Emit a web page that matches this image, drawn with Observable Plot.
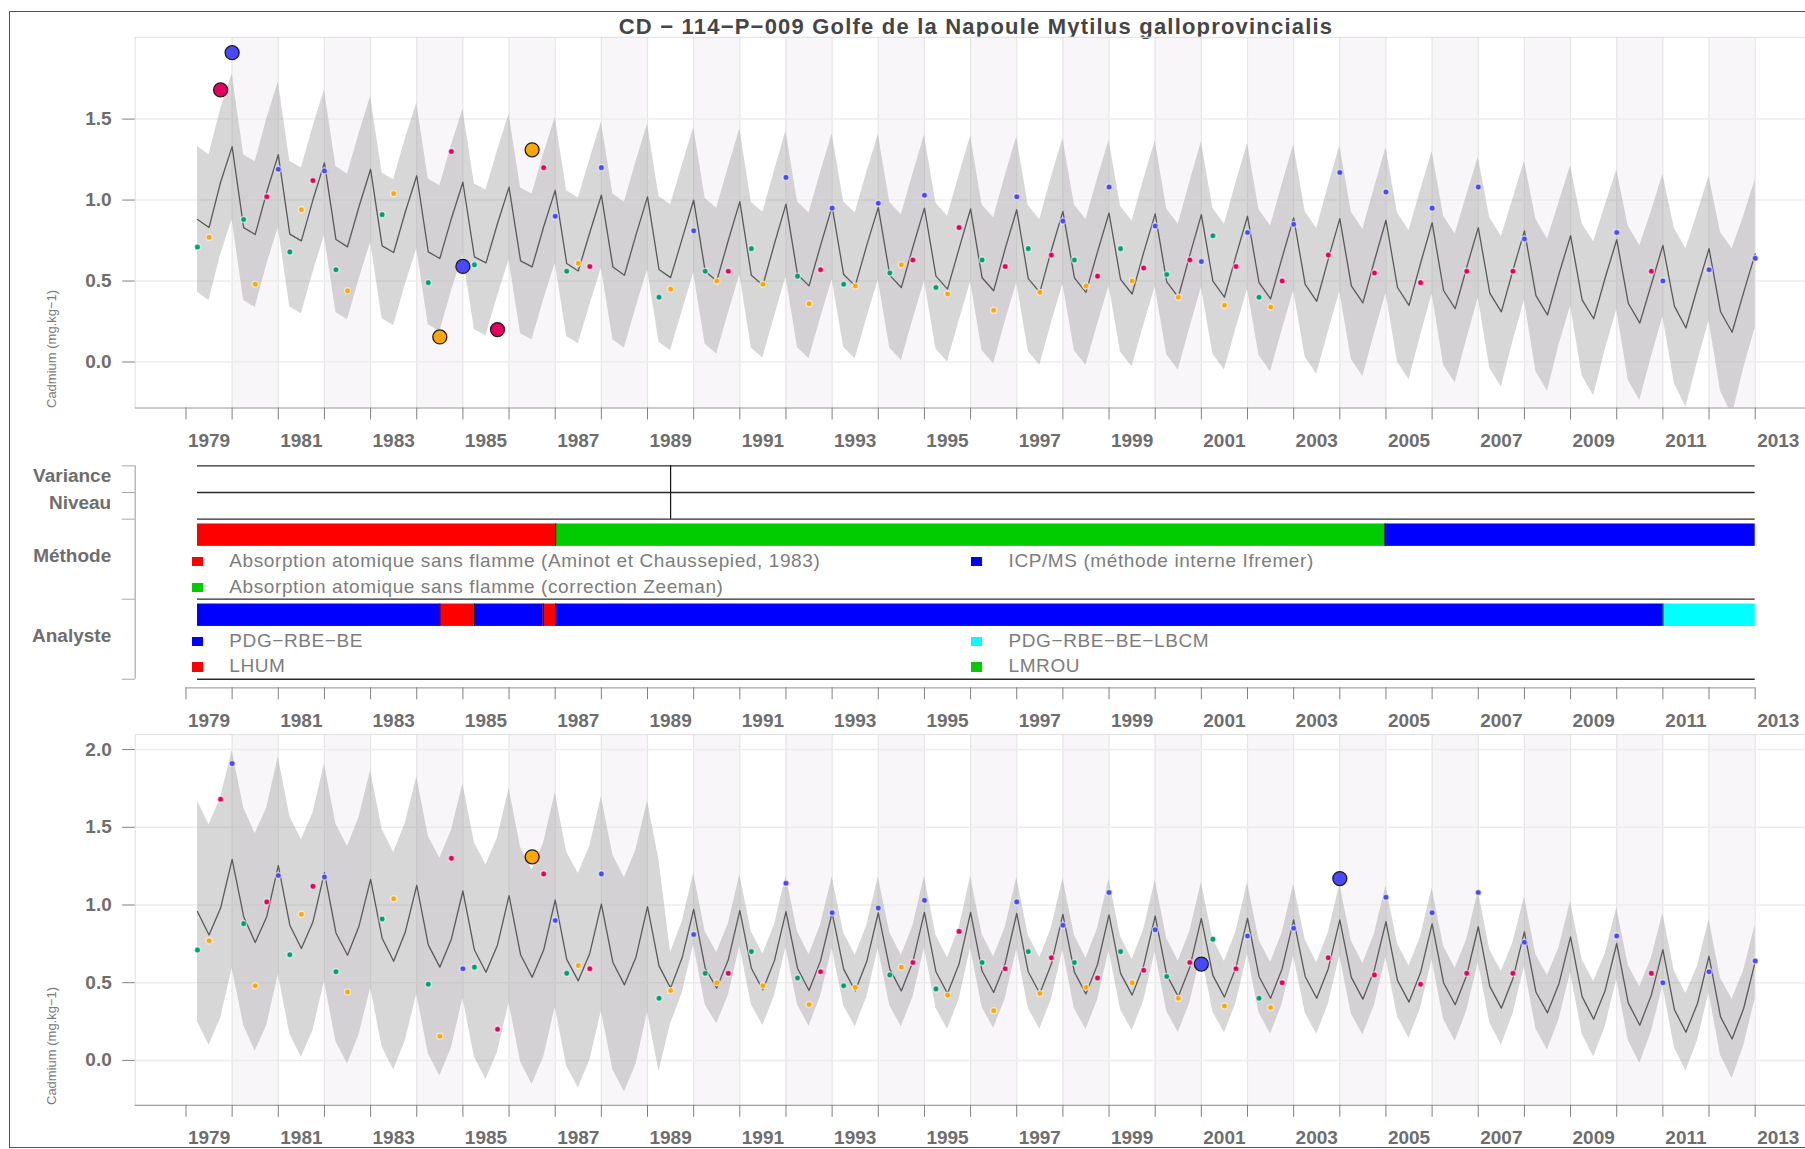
<!DOCTYPE html>
<html>
<head>
<meta charset="utf-8">
<script src="https://cdn.jsdelivr.net/npm/d3@7"></script>
<script src="https://cdn.jsdelivr.net/npm/@observablehq/plot@0.6"></script>
<style>
  html, body { margin:0; padding:0; background:#fff; }
  #page { position:relative; width:1805px; height:1149px; overflow:hidden; background:#fff;
          font-family:"Liberation Sans", Arial, Helvetica, sans-serif; }
  #frame { position:absolute; left:8.5px; top:10.8px; width:1830px; height:1137px; border:1.5px solid #555; box-sizing:border-box; }
  #title { position:absolute; left:976px; top:15.7px; transform:translateX(-50%); white-space:nowrap;
           font-size:22px; line-height:22px; font-weight:bold; color:#454545; letter-spacing:1.2px; }
  .ytitle { position:absolute; white-space:nowrap; font-size:13px; line-height:16px; color:#7a7a7a;
            transform-origin:0 0; transform:rotate(-90deg); }
  .leg { position:absolute; white-space:nowrap; font-size:19px; line-height:22px; color:#7d7d7d; letter-spacing:0.6px; }
  .sw { position:absolute; width:11px; height:9.5px; }
  .panel { position:absolute; left:0; }
</style>
</head>
<body>
<div id="page">
  <div id="frame"></div>
  <div id="title"></div>
</div>
<script>
// ---------------- DATA ----------------
const title = "CD − 114−P−009 Golfe de la Napoule Mytilus galloprovincialis";
const yTitle = "Cadmium (mg.kg−1)";

const years = [1979,1980,1981,1982,1983,1984,1985,1986,1987,1988,1989,1990,1991,1992,1993,1994,1995,1996,
               1997,1998,1999,2000,2001,2002,2003,2004,2005,2006,2007,2008,2009,2010,2011,2012,2013];
const labelYears = [1979,1981,1983,1985,1987,1989,1991,1993,1995,1997,1999,2001,2003,2005,2007,2009,2011,2013];

// Top panel model (quarterly: Q1 = year.00, Q2 = .25, Q3 = .50, Q4 = .75), one entry per year
const topQ1 = [null,1.33,1.28,1.23,1.19,1.15,1.11,1.08,1.06,1.03,1.02,1.00,0.99,0.975,0.96,0.955,0.95,0.945,
               0.94,0.93,0.92,0.915,0.91,0.90,0.89,0.885,0.875,0.86,0.83,0.81,0.78,0.755,0.72,0.70,0.668];
const topQ2 = [0.88,0.83,0.79,0.756,0.717,0.68,0.649,0.624,0.608,0.587,0.571,0.56,0.535,0.54,0.54,0.535,0.53,0.52,
               0.515,0.52,0.51,0.495,0.50,0.49,0.48,0.47,0.46,0.44,0.425,0.41,0.384,0.363,0.345,0.31,null];
const topQ3 = [0.83,0.787,0.748,0.711,0.676,0.639,0.612,0.587,0.562,0.536,0.521,0.50,0.474,0.47,0.47,0.46,0.45,0.44,
               0.43,0.43,0.42,0.40,0.40,0.39,0.375,0.365,0.35,0.33,0.31,0.29,0.267,0.24,0.21,0.184,null];
const topQ4 = [1.11,1.05,1.00,0.96,0.925,0.885,0.855,0.835,0.80,0.785,0.76,0.75,0.73,0.72,0.72,0.71,0.70,0.70,
               0.69,0.68,0.675,0.66,0.655,0.645,0.635,0.625,0.61,0.585,0.565,0.545,0.52,0.48,0.46,0.43,null];
// half-width of the grey band
const topHW1 = [null,0.45,0.45,0.45,0.45,0.45,0.45,0.45,0.45,0.45,0.45,0.45,0.45,0.45,0.45,0.45,0.45,0.45,
                0.45,0.45,0.45,0.45,0.45,0.45,0.45,0.45,0.45,0.44,0.435,0.43,0.434,0.432,0.44,0.446,0.457];
const topHW2 = [0.45,0.45,0.45,0.45,0.45,0.45,0.45,0.45,0.45,0.45,0.45,0.45,0.45,0.45,0.45,0.45,0.45,0.45,
                0.45,0.45,0.45,0.45,0.45,0.45,0.45,0.455,0.46,0.46,0.465,0.47,0.47,0.475,0.48,0.49,null];
const topHW3 = [0.45,0.45,0.45,0.45,0.45,0.45,0.45,0.45,0.45,0.45,0.45,0.45,0.45,0.45,0.45,0.45,0.45,0.45,
                0.45,0.45,0.45,0.45,0.45,0.45,0.45,0.455,0.46,0.46,0.465,0.47,0.475,0.478,0.49,0.515,null];
const topHW4 = [0.45,0.45,0.45,0.45,0.45,0.45,0.45,0.45,0.45,0.45,0.45,0.45,0.45,0.45,0.45,0.45,0.45,0.45,
                0.45,0.45,0.45,0.45,0.45,0.45,0.45,0.45,0.45,0.445,0.44,0.44,0.445,0.45,0.46,0.47,null];

// Bottom panel model (with level/variance break in 1989)
const botQ1 = [null,1.293,1.253,1.208,1.165,1.126,1.09,1.06,1.032,1.006,0.989,0.972,0.964,0.957,0.95,0.95,0.953,0.953,
               0.946,0.94,0.936,0.929,0.914,0.914,0.904,0.904,0.893,0.878,0.86,0.827,0.795,0.752,0.713,0.67,0.634];
const botQ2 = [0.957,0.925,0.87,0.82,0.786,0.743,0.71,0.68,0.65,0.63,0.608,0.593,0.593,0.593,0.587,0.587,0.57,0.575,
               0.57,0.568,0.56,0.55,0.547,0.54,0.54,0.534,0.515,0.498,0.476,0.44,0.41,0.37,0.327,0.28,null];
const botQ3 = [0.807,0.758,0.72,0.677,0.638,0.60,0.567,0.535,0.512,0.486,0.465,0.465,0.454,0.45,0.447,0.447,0.43,0.437,
               0.43,0.428,0.42,0.41,0.407,0.40,0.40,0.394,0.375,0.358,0.336,0.306,0.265,0.226,0.181,0.138,null];
const botQ4 = [0.98,0.925,0.89,0.865,0.824,0.78,0.743,0.71,0.69,0.664,0.66,0.647,0.642,0.642,0.636,0.635,0.62,0.625,
               0.62,0.617,0.61,0.60,0.597,0.59,0.59,0.584,0.565,0.548,0.526,0.495,0.45,0.42,0.366,0.334,null];
const botHW1 = [null,0.70,0.70,0.70,0.70,0.70,0.69,0.69,0.69,0.69,0.68,0.23,0.23,0.23,0.23,0.23,0.23,0.23,
                0.23,0.23,0.23,0.23,0.23,0.23,0.23,0.23,0.23,0.23,0.23,0.225,0.228,0.23,0.233,0.237,0.236];
const botHW2 = [0.71,0.70,0.70,0.70,0.70,0.70,0.69,0.69,0.69,0.69,0.68,0.235,0.235,0.235,0.235,0.235,0.235,0.235,
                0.235,0.235,0.235,0.235,0.235,0.235,0.235,0.235,0.235,0.235,0.235,0.238,0.24,0.242,0.245,0.248,null];
const botHW3 = [0.71,0.70,0.70,0.70,0.70,0.70,0.69,0.69,0.69,0.69,0.23,0.23,0.23,0.23,0.23,0.23,0.23,0.23,
                0.23,0.23,0.23,0.23,0.23,0.23,0.23,0.23,0.232,0.235,0.238,0.24,0.243,0.246,0.25,0.255,null];
const botHW4 = [0.71,0.70,0.70,0.70,0.70,0.70,0.69,0.69,0.69,0.69,0.23,0.23,0.23,0.23,0.23,0.23,0.23,0.23,
                0.23,0.23,0.23,0.23,0.23,0.23,0.23,0.23,0.23,0.23,0.23,0.232,0.235,0.238,0.24,0.243,null];

// Observations (sampling date in decimal years, value in mg/kg)
const obsTime = [
  1979.25,1979.5,1979.75,1980, 1980.25,1980.5,1980.75,1981, 1981.25,1981.5,1981.75,1982, 1982.25,1982.5,
  1983.25,1983.5, 1984.25,1984.5,1984.75,1985, 1985.25,1985.75, 1986.5,1986.75,1987, 1987.25,1987.5,1987.75,1988,
  1989.25,1989.5,1990, 1990.25,1990.5,1990.75, 1991.25,1991.5,1992, 1992.25,1992.5,1992.75,1993, 1993.25,1993.5,1994,
  1994.25,1994.5,1994.75,1995, 1995.25,1995.5,1995.75, 1996.25,1996.5,1996.75,1997, 1997.25,1997.5,1997.75,1998,
  1998.25,1998.5,1998.75,1999, 1999.25,1999.5,1999.75,2000, 2000.25,2000.5,2000.75,2001, 2001.25,2001.5,2001.75,2002,
  2002.25,2002.5,2002.75,2003, 2003.75,2004, 2004.75,2005, 2005.75,2006, 2006.75,2007, 2007.75,2008,
  2010,2010.75,2011, 2012,2013];
const obsValue = [
  0.71,0.77,1.68,1.91, 0.88,0.48,1.02,1.19, 0.68,0.94,1.12,1.18, 0.57,0.44,
  0.91,1.04, 0.49,0.155,1.30,0.59, 0.60,0.20, 1.31,1.20,0.90, 0.56,0.61,0.59,1.20,
  0.40,0.45,0.81, 0.56,0.50,0.56, 0.70,0.48,1.14, 0.53,0.36,0.57,0.95, 0.48,0.47,0.98,
  0.55,0.60,0.63,1.03, 0.46,0.42,0.83, 0.63,0.32,0.59,1.02, 0.70,0.43,0.66,0.87,
  0.63,0.47,0.53,1.08, 0.70,0.50,0.58,0.84, 0.54,0.40,0.63,0.62, 0.78,0.35,0.59,0.80,
  0.40,0.34,0.50,0.85, 0.66,1.17, 0.55,1.05, 0.49,0.95, 0.56,1.08, 0.56,0.76,
  0.80,0.56,0.50, 0.57,0.64];
const topOutliers = [1979.75, 1980, 1984.5, 1985, 1985.75, 1986.5];
const botOutliers = [1986.5, 2001, 2004];
const seasonColors = ["#4848ff", "#009e73", "#ffa600", "#e8005e"]; // Q1, Q2, Q3, Q4

// Breaks and periods (middle panel)
const varianceBreaks = [1989.5];
const niveauBreaks = [1989.5];
const methodeNames = ["Absorption atomique sans flamme (Aminot et Chaussepied, 1983)",
                      "Absorption atomique sans flamme (correction Zeeman)",
                      "ICP/MS (méthode interne Ifremer)"];
const methodeColors = ["#ff0000", "#00cc00", "#0000ff"];
const methodeStart = [1979.25, 1987.01, 2004.98];
const methodeEnd   = [1987.01, 2004.98, 2013.0];
const methodeIdx   = [0, 1, 2];
const analysteNames  = ["PDG−RBE−BE", "LHUM", "PDG−RBE−BE−LBCM", "LMROU"];
const analysteColors = ["#0000ff", "#ff0000", "#00ffff", "#00cc00"];
const analysteStart = [1979.25, 1984.5, 1985.25, 1986.74, 1987.01, 2011.0];
const analysteEnd   = [1984.5, 1985.25, 1986.74, 1987.01, 2011.0, 2013.0];
const analysteIdx   = [0, 1, 0, 1, 0, 2];
const rowNames = ["Variance", "Niveau", "Méthode", "Analyste"];

// ---------------- BUILD ----------------
function quarterly(q1, q2, q3, q4, h1, h2, h3, h4) {
  const out = [];
  years.forEach((y, i) => {
    [[0, q1, h1], [0.25, q2, h2], [0.5, q3, h3], [0.75, q4, h4]].forEach(([o, a, h]) => {
      if (a[i] != null) out.push({t: y + o, v: a[i], lo: a[i] - h[i], hi: a[i] + h[i]});
    });
  });
  return out;
}
const topSeries = quarterly(topQ1, topQ2, topQ3, topQ4, topHW1, topHW2, topHW3, topHW4);
const botSeries = quarterly(botQ1, botQ2, botQ3, botQ4, botHW1, botHW2, botHW3, botHW4);
const obs = obsTime.map((t, i) => ({t, v: obsValue[i], c: seasonColors[Math.round((t - Math.floor(t)) * 4) % 4]}));
const methode = methodeStart.map((s, i) => ({start: s, end: methodeEnd[i], color: methodeColors[methodeIdx[i]]}));
const analyste = analysteStart.map((s, i) => ({start: s, end: analysteEnd[i], color: analysteColors[analysteIdx[i]]}));

const xDomain = [1977.9, 2014.09];
const stripeYears = years.filter(y => y % 2 === 0);
const gridYears = years.slice(1);
const W = 1805, ML = 134.7;
const FONT = '"Liberation Sans", Arial, Helvetica, sans-serif';
const LABEL_DY = 39;

function panel({series, outliers, yDomain, yTicks, marginTop, marginBottom, height}) {
  const small = obs.filter(d => !outliers.includes(d.t));
  const big = obs.filter(d => outliers.includes(d.t));
  return Plot.plot({
    width: W, height, marginLeft: ML, marginRight: 0, marginTop, marginBottom,
    style: {background: "transparent", fontFamily: FONT, fontSize: "19px", fontWeight: "bold", color: "#6e6e6e", overflow: "visible"},
    x: {domain: xDomain, label: null},
    y: {domain: yDomain, label: null},
    color: {type: "identity"},
    marks: [
      Plot.rect(stripeYears, {x1: d => d, x2: d => d + 1, fill: "#f8f6f8"}),
      Plot.ruleX(gridYears, {stroke: "#e6e6e6", strokeWidth: 1.2}),
      Plot.ruleY(yTicks, {stroke: "#ececec", strokeWidth: 1.5}),
      Plot.frame({stroke: "#e0e0e0"}),
      Plot.areaY(series, {x: "t", y1: "lo", y2: "hi", fill: "#9a9a9a", fillOpacity: 0.4, clip: true}),
      Plot.line(series, {x: "t", y: "v", stroke: "#5a5a5a", strokeWidth: 1.3}),
      Plot.dot(small, {x: "t", y: "v", r: 3, fill: "c", stroke: "#ffffff", strokeOpacity: 0.55, strokeWidth: 1.4}),
      Plot.dot(big, {x: "t", y: "v", r: 7, fill: "c", stroke: "#1e1e1e", strokeWidth: 1.3}),
      Plot.ruleY([yDomain[0]], {stroke: "#a5a5a5", strokeWidth: 1.2}),
      Plot.axisY(yTicks, {tickSize: 12.5, tickPadding: 11, tickFormat: d3.format(".1f"), label: null, stroke: "#808080"}),
      Plot.axisX(years, {tickSize: 12, tickFormat: () => "", label: null, stroke: "#808080"}),
      Plot.text(labelYears, {x: d => d + 0.5, text: d => String(d), frameAnchor: "bottom", dy: LABEL_DY, fill: "#6e6e6e"})
    ]
  });
}

function middle() {
  const rowCenter = {0.5: rowNames[0], 1.5: rowNames[1], 3.5: rowNames[2], 6.5: rowNames[3]};
  return Plot.plot({
    width: W, height: 277.3, marginLeft: ML, marginRight: 0, marginTop: 10.3, marginBottom: 45,
    style: {background: "transparent", fontFamily: FONT, fontSize: "19px", fontWeight: "bold", color: "#6e6e6e", overflow: "visible"},
    x: {domain: xDomain, label: null},
    y: {domain: [8.32, 0], label: null},
    color: {type: "identity"},
    marks: [
      Plot.ruleY([0, 1, 2, 5, 8], {x1: 1979.25, x2: 2013, stroke: "#2b2b2b", strokeWidth: 1.3}),
      Plot.ruleX(varianceBreaks, {y1: 0, y2: 1, stroke: "#111", strokeWidth: 1.2}),
      Plot.ruleX(niveauBreaks, {y1: 1, y2: 2, stroke: "#111", strokeWidth: 1.2}),
      Plot.rect(methode, {x1: "start", x2: "end", y1: 2.18, y2: 3.02, fill: "color"}),
      Plot.ruleX(methode.slice(1), {x: "start", y1: 2.18, y2: 3.02, stroke: "#000", strokeWidth: 1}),
      Plot.rect(analyste, {x1: "start", x2: "end", y1: 5.18, y2: 6.02, fill: "color"}),
      Plot.ruleX(analyste.slice(1), {x: "start", y1: 5.18, y2: 6.02, stroke: "#000", strokeWidth: 1}),
      Plot.ruleX([xDomain[0]], {y1: 0, y2: 8, stroke: "#a8a8a8", strokeWidth: 1.2}),
      Plot.axisY([0, 1, 2, 5, 8], {tickSize: 13, tickFormat: () => "", label: null, stroke: "#a8a8a8"}),
      Plot.axisY([0.5, 1.5, 3.5, 6.5], {tickSize: 0, tickPadding: 24, tickFormat: d => rowCenter[d], label: null, dy: -3}),
      Plot.ruleY([8.32], {x1: 1979, x2: 2013, stroke: "#a5a5a5", strokeWidth: 1.2}),
      Plot.axisX(years, {tickSize: 12, tickFormat: () => "", label: null, stroke: "#808080"}),
      Plot.text(labelYears, {x: d => d + 0.5, text: d => String(d), frameAnchor: "bottom", dy: LABEL_DY, fill: "#6e6e6e"})
    ]
  });
}

const page = document.getElementById("page");
document.getElementById("title").textContent = title;

function place(el, top) { el.classList.add("panel"); el.style.top = top + "px"; page.appendChild(el); }

place(panel({series: topSeries, outliers: topOutliers, yDomain: [-0.284, 2.005], yTicks: [0, 0.5, 1, 1.5],
             marginTop: 6.8, marginBottom: 46.5, height: 424}), 30);
place(middle(), 455);
place(panel({series: botSeries, outliers: botOutliers, yDomain: [-0.289, 2.0965], yTicks: [0, 0.5, 1, 1.5, 2],
             marginTop: 2.1, marginBottom: 43.9, height: 416.7}), 732.3);

// y-axis titles
[[44, 408], [44, 1105]].forEach(([l, t]) => {
  const d = document.createElement("div");
  d.className = "ytitle"; d.textContent = yTitle;
  d.style.left = l + "px"; d.style.top = t + "px";
  page.appendChild(d);
});

// legends
function legendItem(color, text, swLeft, textLeft, capCenter) {
  const s = document.createElement("div");
  s.className = "sw"; s.style.background = color;
  s.style.left = swLeft + "px"; s.style.top = (capCenter - 4) + "px";
  page.appendChild(s);
  const t = document.createElement("div");
  t.className = "leg"; t.textContent = text;
  t.style.left = textLeft + "px"; t.style.top = (capCenter - 10.8) + "px";
  page.appendChild(t);
}
legendItem(methodeColors[0], methodeNames[0], 192, 229.3, 560.8);
legendItem(methodeColors[1], methodeNames[1], 192, 229.3, 586.5);
legendItem(methodeColors[2], methodeNames[2], 971, 1008.5, 560.8);
legendItem(analysteColors[0], analysteNames[0], 192, 229.3, 640.5);
legendItem(analysteColors[1], analysteNames[1], 192, 229.3, 666.2);
legendItem(analysteColors[2], analysteNames[2], 971, 1008.5, 640.5);
legendItem(analysteColors[3], analysteNames[3], 971, 1008.5, 666.2);
</script>
</body>
</html>
